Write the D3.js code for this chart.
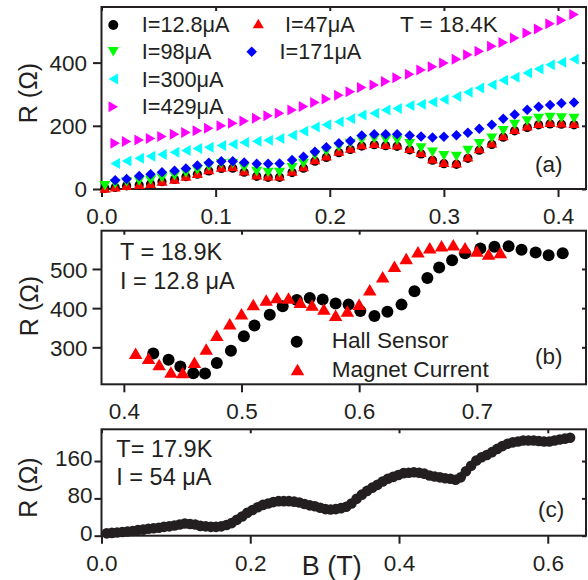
<!DOCTYPE html>
<html lang="en">
<head>
  <meta charset="UTF-8">
  <title>R vs B</title>
  <script src="https://cdn.jsdelivr.net/npm/d3@7"></script>
  <style>
    body { margin: 0; background: #fff; }
    text { font-family: "Liberation Sans", Arial, sans-serif; fill: #231f20; }
  </style>
</head>
<body>
  <svg id="chart" width="588" height="580"></svg>
  <script>
    // ---------- panel (a): T = 18.4K, six currents ----------
    const bA = [0.003, 0.012, 0.022, 0.033, 0.043, 0.053, 0.064, 0.074, 0.084, 0.094, 0.105,
                0.115, 0.125, 0.136, 0.146, 0.156, 0.167, 0.177, 0.187, 0.197, 0.208,
                0.218, 0.228, 0.239, 0.249, 0.259, 0.270, 0.280, 0.290, 0.300, 0.311,
                0.321, 0.331, 0.342, 0.352, 0.362, 0.373, 0.383, 0.393, 0.403, 0.414];
    const r12 = [2, 5, 10, 13, 16, 23, 30, 39, 47, 57, 65, 66, 53, 40, 37, 37, 52, 66, 88, 100, 115,
                 125, 136, 140, 137, 135, 124, 111, 91, 80, 78, 97, 123, 141, 164, 184, 195, 203, 206, 205, 203];
    const r47 = [3, 7, 12, 15, 18, 25, 32, 41, 50, 62, 70, 71, 58, 45, 42, 42, 57, 71, 93, 105, 120,
                 130, 141, 145, 142, 140, 129, 116, 96, 85, 83, 102, 128, 146, 169, 189, 200, 208, 211, 210, 208];
    const r98 = [10, 17, 22, 25, 28, 35, 42, 51, 60, 72, 80, 81, 68, 55, 52, 52, 67, 81, 107, 119, 134,
                 144, 155, 159, 156, 154, 143, 130, 116, 105, 103, 122, 143, 161, 184, 204, 215, 223, 226, 225, 223];
    const r171 = [null, 28, 32, 41, 47, 53, 58, 65, 74, 83, 88, 88, 84, 80, 80, 81, 92, 102, 118, 132, 145,
                  152, 169, 173, 173, 173, 169, 166, 163, 165, 170, 178, 191, 203, 222, 236, 251, 260, 266, 271, 274];
    const r300 = [null, 81, 89, 97, 104, 109, 116, 122, 128, 132, 138, 142, 147, 151, 154, 160, 170, 183, 196, 203, 213,
                  222, 234, 240, 250, 255, 264, 268, 275, 283, 293, 306, 320, 330, 344, 354, 367, 380, 393, 401, 411];
    const r429 = [null, 145, 150, 155, 160, 166, 173, 179, 184, 192, 200, 208, 215, 224, 232, 240, 250, 261, 274, 285, 297,
                  308, 321, 329, 340, 352, 363, 377, 387, 399, 411, 425, 436, 452, 464, 478, 494, 506, 523, 534, 552];
    const seriesA = ['I=12.8μA', 'I=47μA', 'I=98μA', 'I=171μA', 'I=300μA', 'I=429μA'];

    // ---------- panel (b): T = 18.9K, field from Hall sensor vs magnet current ----------
    const bHall = [0.425, 0.438, 0.448, 0.459, 0.469, 0.479, 0.491, 0.502, 0.511, 0.524, 0.535, 0.547,
                   0.558, 0.569, 0.580, 0.591, 0.601, 0.613, 0.624, 0.636, 0.647, 0.658, 0.668, 0.679,
                   0.690, 0.703, 0.715, 0.727, 0.738, 0.750, 0.761, 0.773];
    const rHall = [284, 268, 251, 234, 233, 260, 291, 328, 356, 383, 405, 421, 426, 422, 412, 409,
                   393, 380, 391, 409, 443, 477, 504, 522, 540, 552, 557, 558, 549, 542, 535, 540];
    const bMag = [0.410, 0.421, 0.430, 0.440, 0.450, 0.460, 0.470, 0.479, 0.490, 0.500, 0.510, 0.521,
                  0.530, 0.540, 0.550, 0.560, 0.570, 0.580, 0.590, 0.600, 0.609, 0.620, 0.630, 0.640,
                  0.650, 0.660, 0.670, 0.680, 0.690, 0.700, 0.710, 0.720];
    const rMag = [285, 272, 256, 237, 236, 262, 296, 331, 360, 386, 409, 421, 427, 426, 415, 408,
                  398, 382, 393, 410, 447, 480, 507, 527, 544, 554, 559, 562, 554, 546, 538, 542];
    const seriesB = ['Hall Sensor', 'Magnet Current'];

    // ---------- panel (c): T = 17.9K, I = 54 uA ----------
    const bC = [0.007, 0.014, 0.021, 0.028, 0.035, 0.042, 0.049, 0.056, 0.063, 0.070,
                0.077, 0.084, 0.091, 0.098, 0.105, 0.112, 0.119, 0.126, 0.133, 0.140,
                0.147, 0.154, 0.161, 0.168, 0.175, 0.182, 0.189, 0.196, 0.203, 0.210,
                0.217, 0.224, 0.231, 0.238, 0.245, 0.252, 0.259, 0.266, 0.273, 0.280,
                0.287, 0.294, 0.301, 0.308, 0.315, 0.322, 0.329, 0.336, 0.343, 0.350,
                0.357, 0.364, 0.371, 0.378, 0.385, 0.392, 0.399, 0.406, 0.413, 0.420,
                0.427, 0.434, 0.441, 0.448, 0.455, 0.462, 0.469, 0.476, 0.483, 0.490,
                0.497, 0.504, 0.511, 0.518, 0.525, 0.532, 0.539, 0.546, 0.553, 0.560,
                0.567, 0.574, 0.581, 0.588, 0.595, 0.602, 0.609, 0.616, 0.623, 0.630];
    const rC = [5, 6, 7, 8, 9, 10, 12, 13, 15, 16,
                17, 19, 20, 22, 24, 26, 25, 24, 21, 20,
                19, 19, 20, 23, 27, 34, 41, 49, 55, 61,
                66, 69, 72, 74, 74, 74, 73, 71, 68, 65,
                63, 60, 57, 56, 57, 59, 62, 69, 79, 88,
                96, 103, 109, 116, 122, 126, 130, 134, 135, 136,
                135, 133, 129, 127, 125, 123, 122, 120, 125, 138,
                150, 161, 168, 173, 179, 186, 192, 197, 200, 202,
                204, 204, 204, 203, 202, 202, 204, 206, 208, 210];

    const INK = '#231f20';
    const FONT = '"Liberation Sans", Arial, sans-serif';
    const svg = d3.select('#chart');
    const L = 101.5, R = 586;

    // marker shapes (centered on their bounding box)
    const shape = {
      circle: r => `M${-r},0A${r},${r} 0 1,0 ${r},0A${r},${r} 0 1,0 ${-r},0Z`,
      up: (w, h) => `M0,${-h / 2}L${w / 2},${h / 2}L${-w / 2},${h / 2}Z`,
      down: (w, h) => `M0,${h / 2}L${w / 2},${-h / 2}L${-w / 2},${-h / 2}Z`,
      left: (w, h) => `M${-w / 2},0L${w / 2},${-h / 2}L${w / 2},${h / 2}Z`,
      right: (w, h) => `M${w / 2},0L${-w / 2},${-h / 2}L${-w / 2},${h / 2}Z`,
      diamond: (w, h) => `M0,${-h / 2}L${w / 2},0L0,${h / 2}L${-w / 2},0Z`
    };

    const makePanel = cfg => {
      const x = d3.scaleLinear().domain(cfg.xDom).range([L, R]);
      const y = d3.scaleLinear().domain(cfg.yDom).range([cfg.bottom, cfg.top]);
      const g = svg.append('g');

      const styleAxis = sel => {
        sel.select('.domain').remove();
        sel.attr('font-size', 22.5).attr('font-family', FONT);
        sel.selectAll('.tick line').attr('stroke', INK).attr('stroke-width', 2);
        sel.selectAll('.tick text').attr('fill', INK);
      };

      g.append('g')
        .attr('transform', `translate(0,${cfg.bottom})`)
        .call(d3.axisBottom(x).tickValues(cfg.xTicks).tickFormat(d3.format('.1f'))
          .tickSize(8).tickPadding(11))
        .call(styleAxis);
      g.append('g')
        .attr('transform', `translate(${L},0)`)
        .call(d3.axisLeft(y).tickValues(cfg.yTicks).tickFormat(d3.format('d'))
          .tickSize(cfg.yTickLen).tickPadding(cfg.yPad))
        .call(styleAxis)
        .selectAll('.tick text').attr('dy', cfg.yDy);
      // mirrored inward ticks
      g.append('g')
        .attr('transform', `translate(${R},0)`)
        .call(d3.axisRight(y).tickValues(cfg.yTicks).tickFormat('').tickSize(-4))
        .call(styleAxis);
      g.append('g')
        .attr('transform', `translate(0,${cfg.top})`)
        .call(d3.axisTop(x).tickValues(cfg.xTicks).tickFormat('').tickSize(-4))
        .call(styleAxis);

      g.append('rect')
        .attr('x', L).attr('y', cfg.top)
        .attr('width', R - L).attr('height', cfg.bottom - cfg.top)
        .attr('fill', 'none').attr('stroke', INK).attr('stroke-width', 2);

      g.append('text')
        .attr('transform', `translate(${cfg.titleX},${cfg.titleY}) rotate(-90)`)
        .attr('text-anchor', 'middle').attr('dy', '0.28em')
        .attr('font-size', 25)
        .text('R (Ω)');

      return { x, y, g };
    };

    const plotSeries = (p, xs, ys, d, fill) => {
      const pts = xs.map((b, i) => ({ b, r: ys[i] })).filter(o => o.r != null);
      p.g.append('g').selectAll('path').data(pts)
        .enter().append('path')
          .attr('transform', o => `translate(${p.x(o.b)},${p.y(o.r)})`)
          .attr('d', d)
          .attr('fill', fill);
    };

    const label = (x, y, txt, size) => svg.append('text')
      .attr('x', x).attr('y', y).attr('font-size', size).text(txt);

    // ---------- (a) ----------
    const pA = makePanel({
      top: 7, bottom: 189, xDom: [0, 0.4245], yDom: [0, 576],
      xTicks: [0, 0.1, 0.2, 0.3, 0.4], yTicks: [0, 200, 400],
      yTickLen: 8.5, yPad: 6, yDy: '0.34em', titleX: 30, titleY: 93
    });
    const markA = [
      { ys: r12, d: shape.circle(4.6), fill: '#000000' },
      { ys: r47, d: shape.up(11, 9.5), fill: '#ff0000' },
      { ys: r98, d: shape.down(11, 9.5), fill: '#00ff00' },
      { ys: r171, d: shape.diamond(10.5, 10.5), fill: '#0000ff' },
      { ys: r300, d: shape.left(9.5, 11), fill: '#00ffff' },
      { ys: r429, d: shape.right(9.5, 11), fill: '#ff00ff' }
    ];
    markA.forEach(m => plotSeries(pA, bA, m.ys, m.d, m.fill));

    const legA = [
      { mx: 113.3, my: 25, tx: 141.7, ty: 31.7 },
      { mx: 258.3, my: 23.5, tx: 285, ty: 31.7 },
      { mx: 113.3, my: 51.7, tx: 141.7, ty: 59 },
      { mx: 251.7, my: 51.7, tx: 279.5, ty: 58.7 },
      { mx: 113.3, my: 79, tx: 141.7, ty: 86.7 },
      { mx: 113.3, my: 106.7, tx: 141.7, ty: 114.3 }
    ];
    legA.forEach((l, i) => {
      svg.append('path')
        .attr('transform', `translate(${l.mx},${l.my})`)
        .attr('d', i === 0 ? shape.circle(5) : markA[i].d)
        .attr('fill', markA[i].fill);
      label(l.tx, l.ty, seriesA[i], 21.7);
    });
    label(400, 31.7, 'T = 18.4K', 22.5);
    label(535, 172, '(a)', 22.5);

    // ---------- (b) ----------
    const pB = makePanel({
      top: 230.7, bottom: 384.3, xDom: [0.381, 0.7928], yDom: [205.6, 597.7],
      xTicks: [0.4, 0.5, 0.6, 0.7], yTicks: [300, 400, 500],
      yTickLen: 9, yPad: 5, yDy: '0.36em', titleX: 31, titleY: 306
    });
    const circB = shape.circle(6), triB = shape.up(13.5, 11.5);
    plotSeries(pB, bHall, rHall, circB, '#000000');
    plotSeries(pB, bMag, rMag, triB, '#ff0000');
    svg.append('path').attr('transform', 'translate(296.7,341.7)').attr('d', circB).attr('fill', '#000');
    svg.append('path').attr('transform', 'translate(297.5,369.5)').attr('d', triB).attr('fill', '#ff0000');
    label(331.7, 348.3, seriesB[0], 22.6);
    label(331.7, 376.7, seriesB[1], 22.6);
    label(120, 259.7, 'T = 18.9K', 23.5);
    label(120, 288.5, 'I = 12.8 μA', 23.5);
    label(535, 363.5, '(b)', 22.5);

    // ---------- (c) ----------
    const pC = makePanel({
      top: 429.3, bottom: 535.7, xDom: [0, 0.6514], yDom: [0, 228],
      xTicks: [0, 0.2, 0.4, 0.6], yTicks: [0, 80, 160],
      yTickLen: 7, yPad: 2, yDy: '0.2em', titleX: 30, titleY: 487.5
    });
    plotSeries(pC, bC, rC, shape.circle(5.3), INK);
    label(116.3, 456.7, 'T= 17.9K', 23.5);
    label(116.3, 485, 'I = 54 μA', 23.5);
    label(538, 517, '(c)', 22.5);

    svg.append('text')
      .attr('x', 331.7).attr('y', 575)
      .attr('text-anchor', 'middle').attr('font-size', 27)
      .text('B (T)');
  </script>
</body>
</html>
